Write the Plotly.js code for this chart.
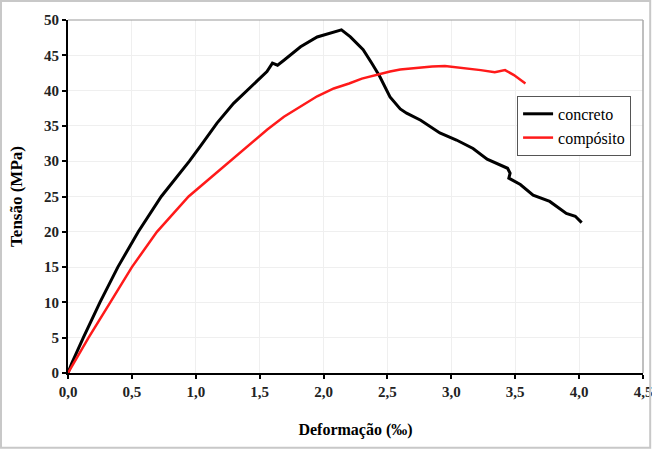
<!DOCTYPE html>
<html>
<head>
<meta charset="utf-8">
<script src="https://cdn.plot.ly/plotly-3.0.1.min.js"></script>
<style>html,body{margin:0;padding:0;background:#fff;}#chart{width:652px;height:450px;}</style>
</head>
<body>
<div id="chart"></div>
<script>
// concreto (black)
const concretoX = [0, 0.03, 0.12, 0.25, 0.39, 0.55, 0.73, 0.85, 0.95, 1.035, 1.166, 1.296, 1.42, 1.50, 1.557, 1.60, 1.64, 1.69, 1.82, 1.95, 2.05, 2.10, 2.14, 2.21, 2.31, 2.38, 2.44, 2.52, 2.60, 2.65, 2.76, 2.91, 3.04, 3.17, 3.28, 3.44, 3.46, 3.45, 3.54, 3.64, 3.77, 3.90, 3.97, 4.02];
const concretoY = [0, 1.4, 5, 10, 15, 20, 25, 27.7, 30, 32.1, 35.4, 38.2, 40.3, 41.7, 42.7, 43.9, 43.6, 44.3, 46.2, 47.6, 48.1, 48.3, 48.6, 47.6, 45.8, 43.8, 42.0, 39.1, 37.4, 36.8, 35.8, 34.0, 33.0, 31.8, 30.3, 29.0, 28.3, 27.6, 26.7, 25.2, 24.3, 22.6, 22.2, 21.3];
// compósito (red)
const compositoX = [0, 0.161, 0.331, 0.50, 0.696, 0.944, 1.10, 1.27, 1.43, 1.56, 1.69, 1.82, 1.95, 2.08, 2.2, 2.3, 2.42, 2.52, 2.6, 2.7, 2.85, 2.95, 3.05, 3.12, 3.23, 3.34, 3.42, 3.49, 3.54, 3.58];
const compositoY = [0, 5, 10, 15, 20, 25, 27.4, 30, 32.5, 34.5, 36.3, 37.8, 39.2, 40.3, 41.0, 41.7, 42.3, 42.7, 43.0, 43.2, 43.4, 43.5, 43.3, 43.2, 42.9, 42.6, 42.9, 42.2, 41.5, 41.0];
const seriesNames = ["concreto", "compósito"];
const xTicks = [0, 0.5, 1, 1.5, 2, 2.5, 3, 3.5, 4, 4.5];
const yTicks = [0, 5, 10, 15, 20, 25, 30, 35, 40, 45, 50];

const serif = "'Liberation Serif', serif";

const traces = [
  {x: concretoX, y: concretoY, name: seriesNames[0], mode: "lines", legendgroup: "a",
   line: {color: "#000000", width: 3}},
  {x: compositoX, y: compositoY, name: seriesNames[1], mode: "lines", legendgroup: "b",
   line: {color: "#ff1a1a", width: 2.5}}
];

const layout = {
  width: 652, height: 450,
  margin: {l: 68, r: 9, t: 20, b: 77},
  paper_bgcolor: "#ffffff", plot_bgcolor: "#ffffff",
  separators: ", ",
  font: {family: serif, color: "#000", size: 15},
  showlegend: true,
  legend: {x: 0.781, y: 0.785, xanchor: "left", yanchor: "top",
    bordercolor: "#555", borderwidth: 1, bgcolor: "#fff",
    font: {family: serif, size: 16, color: "#000"},
    traceorder: "grouped", tracegroupgap: 0, itemwidth: 30},
  xaxis: {range: [0, 4.5], tickvals: xTicks, tickformat: ".1f",
    showgrid: true, gridcolor: "#efefef", gridwidth: 1,
    showline: true, linecolor: "#000", linewidth: 2, mirror: false,
    ticks: "outside", ticklen: 4, tickwidth: 2, tickcolor: "#000",
    zeroline: false, ticklabeloverflow: "allow",
    tickfont: {family: serif, size: 15, color: "#222", weight: "bold"},
    title: {text: "<b>Deformação (‰)</b>", font: {family: serif, size: 16, color: "#000"}, standoff: 25}},
  yaxis: {range: [0, 50], tickvals: yTicks,
    showgrid: true, gridcolor: "#efefef", gridwidth: 1,
    showline: true, linecolor: "#000", linewidth: 2,
    ticks: "outside", ticklen: 4, tickwidth: 2, tickcolor: "#000",
    zeroline: false,
    tickfont: {family: serif, size: 15, color: "#222", weight: "bold"},
    title: {text: "<b>Tensão (MPa)</b>", font: {family: serif, size: 17, color: "#000"}, standoff: 17}},
  shapes: [
    {type: "line", xref: "paper", yref: "paper", x0: 0, x1: 1, y0: 1, y1: 1, line: {color: "#999", width: 1}},
    {type: "line", xref: "paper", yref: "paper", x0: 1, x1: 1, y0: 0, y1: 1, line: {color: "#aaa", width: 1.5}},
    {type: "rect", xref: "paper", yref: "paper", x0: -0.1165, x1: 1.0125, y0: -0.212, y1: 1.054, line: {color: "#c8c8c8", width: 2}}
  ]
};

Plotly.newPlot("chart", traces, layout, {displayModeBar: false, staticPlot: true});
</script>
</body>
</html>
